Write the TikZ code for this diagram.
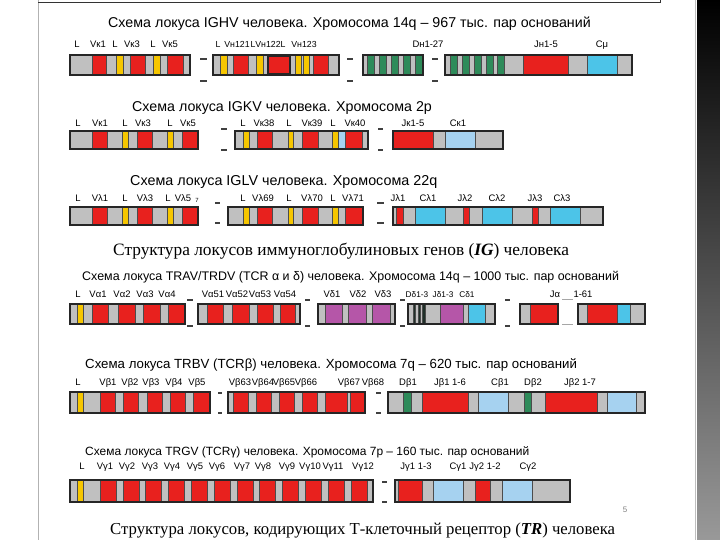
\documentclass[tikz,border=0pt]{standalone}
\usepackage{fontspec}
\setmainfont{Liberation Sans}
\newfontfamily\capfont{Liberation Serif}

\definecolor{rd}{HTML}{E8211E}
\definecolor{gr}{HTML}{C0C0C0}
\definecolor{yl}{HTML}{F6C600}
\definecolor{gn}{HTML}{2E8B5A}
\definecolor{cy}{HTML}{4CC4E8}
\definecolor{lb}{HTML}{A6D2F0}
\definecolor{pu}{HTML}{B556A8}
\definecolor{dk}{HTML}{1F2F28}

\tikzset{
  seg/.style={draw=black!70,line width=0.4bp},
  blk/.style={draw=black!85,line width=1.1bp},
  brk/.style={black!75,line width=1.2bp},
  lab/.style={font=\fontsize{9.5}{10}\selectfont,inner sep=0pt,anchor=base},
  ttl/.style={font=\fontsize{#1}{13}\selectfont,inner sep=0pt,anchor=west},
  captn/.style={font=\capfont\fontsize{#1}{17}\selectfont,inner sep=0pt,anchor=west}
}

% one block of a locus: top, bottom, x0, x1, list of x1/x2/colour
\newcommand{\locblock}[5]{%
  \fill[gr] (#3,#1) rectangle (#4,#2);
  \foreach \xa/\xb/\col in {#5}
    \filldraw[seg,fill=\col] (\xa,#1) rectangle (\xb,#2);
  \draw[blk] (#3,#1) rectangle (#4,#2);}
% break marks between blocks: x0, x1, y top, y bottom
\newcommand{\brkmark}[4]{%
  \draw[brk] (#1,#3) -- (#2,#3) (#1,#4) -- (#2,#4);}

\begin{document}
\begin{tikzpicture}[x=1bp,y=-1bp]
  \useasboundingbox (0,0) rectangle (720,540);
  \fill[white] (0,0) rectangle (720,540);
  \shade[top color=black,bottom color=black!40] (697,0) rectangle (720,540);
  \draw[black!25,line width=1bp] (695,0) -- (695,540);
  \draw[black!30,line width=0.6bp] (38,0) -- (38,540);
  \draw[black!80,line width=0.8bp] (38,2) -- (660,2) -- (660,0);

  % IGHV
  \node[ttl=14.3] (t1) at (108,24) {Схема локуса IGHV человека. Хромосома 14q – 967 тыс. пар оснований};
  \locblock{55}{75}{70}{190}{92/106/rd,116/123/yl,130/145/rd,153/160/yl,167/183/rd}
  \brkmark{200}{207}{59}{81}
  \locblock{55}{75}{213}{339}{220/227/yl,233/248/rd,256/263/yl,295/301/yl,303/309/yl,313/328/rd}
  \filldraw[blk,fill=rd] (268,56) rectangle (290,74);
  \brkmark{347}{353}{59}{81}
  \locblock{55}{75}{363}{423}{367/374/gn,379/386/gn,391/398/gn,403/410/gn,415/423/gn}
  \brkmark{432}{438}{59}{81}
  \locblock{55}{75}{445}{632}{450/457/gn,462/469/gn,474/481/gn,486/493/gn,497/504/gn,523/568/rd,587/617/cy}
  \foreach \t/\x [count=\i] in {L/77,Vк1/98,L/115,Vк3/132,L/153,Vк5/170,Dн1-27/428,Jн1-5/546,Cμ/602}
    \node[lab] (h\i) at (\x,47.5) {\t};
  \foreach \t/\x [count=\i] in {L/218,Vн121/237,L/253,Vн122/268,L/283,Vн123/304}
    \node[lab,font=\fontsize{8.8}{9}\selectfont] (hn\i) at (\x,47.5) {\t};

  % IGKV
  \node[ttl=14.3] (t2) at (132,108) {Схема локуса IGKV человека. Хромосома 2p};
  \locblock{131}{149}{70}{198}{92/107/rd,122/128/yl,137/152/rd,167/173/yl,182/198/rd}
  \brkmark{221}{227}{129}{150}
  \locblock{131}{149}{235}{368}{243/249/yl,257/272/rd,288/293/yl,302/318/rd,332/338/yl,338/345/lb,345/362/rd}
  \brkmark{378}{383}{129}{150}
  \locblock{131}{149}{393}{503}{393/433/rd,445/475/lb}
  \foreach \t/\x [count=\i] in {L/78,Vк1/100,L/125,Vк3/143,L/170,Vк5/188,L/243,Vк38/264,L/289,Vк39/312,L/333,Vк40/355,Jк1-5/413,Cк1/458}
    \node[lab] (k\i) at (\x,126.5) {\t};

  % IGLV
  \node[ttl=14.4] (t3) at (130,182) {Схема локуса IGLV человека. Хромосома 22q};
  \locblock{207}{225}{70}{198}{92/107/rd,122/128/yl,137/152/rd,167/173/yl,182/198/rd}
  \brkmark{215}{220}{203}{223}
  \locblock{207}{225}{228}{363}{243/249/yl,257/272/rd,288/293/yl,302/318/rd,332/338/yl,345/363/rd}
  \brkmark{377}{384}{203}{223}
  \locblock{207}{225}{393}{603}{396/403/rd,415/445/cy,463/469/rd,482/512/cy,532/538/rd,550/580/cy}
  \foreach \t/\x [count=\i] in {L/78,Vλ1/100,L/125,Vλ3/145,L/168,Vλ5/183,L/243,Vλ69/263,L/289,Vλ70/312,L/333,Vλ71/353,Jλ1/398,Cλ1/428,Jλ2/465,Cλ2/497,Jλ3/535,Cλ3/562}
    \node[lab] (l\i) at (\x,201.5) {\t};
  \node[lab,font=\fontsize{6}{6}\selectfont] (l7b) at (197,203) {7};

  \node[captn=17.4] (cap1) at (113,251) {Структура локусов иммуноглобулиновых генов (\textbf{\textit{IG}}) человека};

  % TRAV/TRDV
  \node[ttl=12.5] (t4) at (82,277) {Схема локуса TRAV/TRDV (TCR α и δ) человека. Хромосома 14q – 1000 тыс. пар оснований};
  \locblock{304}{324}{70}{185}{77/83/yl,92/108/rd,118/135/rd,143/160/rd,168/185/rd}
  \brkmark{187}{193}{300}{326}
  \locblock{304}{324}{198}{300}{207/223/rd,232/249/rd,257/273/rd,280/295/rd}
  \brkmark{305}{310}{300}{326}
  \locblock{304}{324}{318}{395}{325/342/pu,348/366/pu,372/390/pu}
  \brkmark{400}{405}{300}{326}
  \locblock{304}{324}{408}{495}{413/415/dk,418/420/dk,422/425/dk,440/463/pu,468/485/cy}
  \brkmark{505}{510}{300}{326}
  \locblock{304}{324}{520}{558}{530/558/rd}
  \draw[black!35,line width=0.8bp] (562,299) -- (573,299) (562,324) -- (573,324);
  \locblock{304}{324}{578}{645}{587/617/rd,617/630/cy}
  \foreach \t/\x [count=\i] in {L/78,Vα1/98,Vα2/122,Vα3/145,Vα4/167,Vα51/213,Vα52/237,Vα53/260,Vα54/285,Vδ1/332,Vδ2/358,Vδ3/383,Jα/555,1-61/583}
    \node[lab] (a\i) at (\x,297.5) {\t};
  \foreach \t/\x [count=\i] in {Dδ1-3/417,Jδ1-3/443,Cδ1/467}
    \node[lab,font=\fontsize{8.3}{9}\selectfont] (d\i) at (\x,297.5) {\t};

  % TRBV
  \node[ttl=13.3] (t5) at (85,365) {Схема локуса TRBV (TCRβ) человека. Хромосома 7q – 620 тыс. пар оснований};
  \locblock{392}{413}{70}{210}{77/83/yl,100/115/rd,123/138/rd,147/162/rd,170/185/rd,193/210/rd}
  \brkmark{218}{222}{393}{413}
  \locblock{392}{413}{228}{365}{233/248/rd,256/271/rd,279/294/rd,302/317/rd,325/347/rd,350/365/rd}
  \brkmark{376}{381}{393}{413}
  \locblock{392}{413}{388}{645}{403/411/gn,422/468/rd,478/508/lb,524/531/gn,545/597/rd,607/636/lb}
  \foreach \t/\x [count=\i] in {L/78,Vβ1/108,Vβ2/130,Vβ3/151,Vβ4/174,Vβ5/197,Vβ63/240,Vβ64/263,Vβ65/284,Vβ66/306,Vβ67/349,Vβ68/373,Dβ1/408,Jβ1 1-6/450,Cβ1/500,Dβ2/533,Jβ2 1-7/580}
    \node[lab] (b\i) at (\x,385.5) {\t};

  % TRGV
  \node[ttl=12] (t6) at (85,452) {Схема локуса TRGV (TCRγ) человека. Хромосома 7p – 160 тыс. пар оснований};
  \locblock{480}{502}{70}{373}{77/83/yl}
  \foreach \k in {0,...,11}
    \filldraw[seg,fill=rd] ({100+22.8*\k},480) rectangle ({116+22.8*\k},502);
  \draw[blk] (70,480) rectangle (373,502);
  \brkmark{382}{387}{482}{502}
  \locblock{480}{502}{395}{570}{398/422/rd,433/463/lb,475/490/rd,502/532/lb}
  \foreach \t/\x [count=\i] in {L/82,Vγ1/105,Vγ2/127,Vγ3/150,Vγ4/172,Vγ5/195,Vγ6/217,Vγ7/242,Vγ8/263,Vγ9/287,Vγ10/310,Vγ11/333,Vγ12/363,Jγ1 1-3/416,Cγ1/458,Jγ2 1-2/485,Cγ2/528}
    \node[lab] (g\i) at (\x,469.5) {\t};

  \node[font=\fontsize{8}{8}\selectfont,text=black!50,inner sep=0pt] (pg) at (625,510) {5};
  \node[captn=16.8] (cap2) at (110,530) {Структура локусов, кодирующих Т-клеточный рецептор (\textbf{\textit{TR}}) человека};
\end{tikzpicture}
\end{document}
